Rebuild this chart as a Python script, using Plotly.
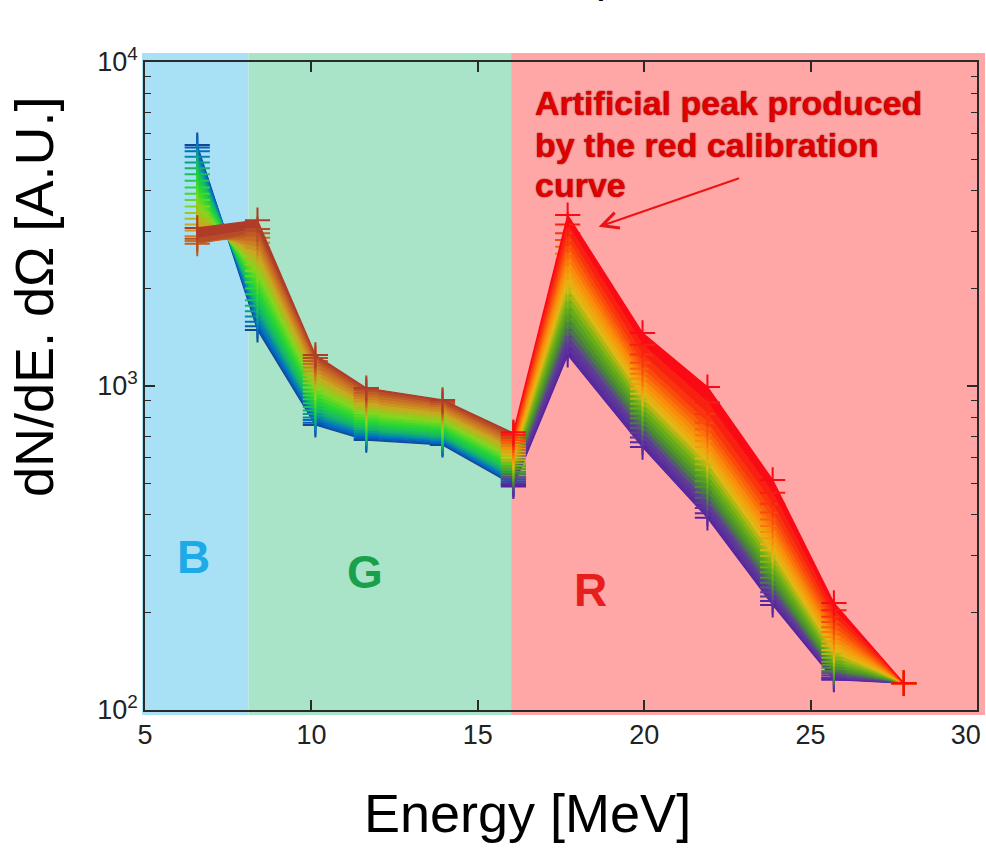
import math
import plotly.graph_objects as go
from plotly.colors import sample_colorscale

# ---------------- data ----------------
energy_bg = [6.57, 8.38, 10.12, 11.65, 13.94, 16.07]
energy_r = [16.07, 17.7, 19.95, 21.9, 23.86, 25.7, 27.8]

# B/G region spectra (blue -> green -> brown/red)
bg_curves = [
    [5540, 1490, 758, 681, 658, 495],
    [5450, 1530, 770, 690, 665, 500],
    [5300, 1580, 785, 700, 672, 508],
    [5100, 1640, 800, 710, 680, 515],
    [4900, 1700, 820, 722, 690, 524],
    [4700, 1770, 840, 735, 700, 533],
    [4500, 1840, 862, 748, 712, 543],
    [4300, 1920, 885, 762, 724, 553],
    [4100, 2000, 910, 777, 737, 564],
    [3920, 2090, 935, 792, 750, 575],
    [3750, 2180, 962, 808, 764, 587],
    [3580, 2270, 990, 825, 778, 600],
    [3420, 2370, 1020, 842, 793, 612],
    [3280, 2470, 1050, 860, 808, 625],
    [3150, 2570, 1080, 878, 823, 638],
    [3020, 2670, 1110, 897, 838, 651],
    [2900, 2770, 1140, 916, 853, 665],
    [2800, 2870, 1170, 935, 867, 678],
    [2750, 2960, 1195, 952, 880, 690],
    [2850, 3050, 1220, 970, 893, 703],
    [3075, 3250, 1247, 986, 906, 716],
]

# R region spectra (purple -> green -> yellow -> red)
r_curves = [
    [490, 1247, 648, 392, 211, 124, 121],
    [498, 1300, 670, 405, 217, 125, 121],
    [506, 1360, 693, 420, 224, 126, 121],
    [515, 1420, 717, 436, 231, 128, 121],
    [524, 1490, 742, 452, 239, 130, 121],
    [534, 1560, 768, 470, 247, 132, 121],
    [544, 1640, 795, 489, 256, 135, 121],
    [555, 1720, 823, 508, 266, 138, 121],
    [566, 1810, 852, 529, 276, 141, 121],
    [578, 1900, 882, 550, 287, 145, 121],
    [590, 2000, 913, 573, 299, 149, 121],
    [602, 2100, 946, 597, 311, 153, 121],
    [615, 2210, 980, 622, 325, 158, 121],
    [628, 2320, 1015, 648, 339, 163, 121],
    [641, 2440, 1052, 676, 354, 168, 121],
    [654, 2560, 1090, 705, 370, 174, 121],
    [667, 2690, 1130, 736, 387, 180, 121],
    [680, 2820, 1180, 770, 407, 187, 121],
    [693, 2960, 1250, 820, 433, 194, 121],
    [706, 3150, 1340, 890, 468, 203, 121],
    [720, 3370, 1458, 993, 513, 214, 121],
]

x_ticks = [5, 10, 15, 20, 25, 30]
x_tick_text = ["5", "10", "15", "20", "25", "30&nbsp;&nbsp;&nbsp;"]
y_ticks = [100, 1000, 10000]
y_tick_text = ["10<sup>2</sup>", "10<sup>3</sup>", "10<sup>4</sup>"]
y_minor = [200, 300, 400, 500, 600, 700, 800, 900,
           2000, 3000, 4000, 5000, 6000, 7000, 8000, 9000]

region_names = ["B", "G", "R"]
region_edges = [5, 8.11, 16.0, 30]

peak_note = ["Artificial peak produced", "by the red calibration", "curve"]
peak_point = (18.63, 3100)   # where the arrow points

x_title = "Energy [MeV]"
y_title = "dN/dE. dΩ [A.U.]"

# ---------------- style ----------------
FONT = "Liberation Sans, Arial, Helvetica, sans-serif"
bg_scale = [[0.0, "rgb(20,70,150)"], [0.1, "rgb(0,110,200)"], [0.25, "rgb(20,180,110)"],
            [0.4, "rgb(40,215,50)"], [0.55, "rgb(130,215,30)"], [0.7, "rgb(200,170,30)"],
            [0.82, "rgb(205,120,35)"], [1.0, "rgb(175,60,40)"]]
r_scale = [[0.0, "rgb(85,35,160)"], [0.15, "rgb(95,60,150)"], [0.28, "rgb(70,140,50)"],
           [0.42, "rgb(110,180,20)"], [0.56, "rgb(230,185,20)"], [0.7, "rgb(250,140,10)"],
           [0.85, "rgb(250,75,10)"], [1.0, "rgb(250,10,20)"]]
region_fill = ["rgb(168,225,246)", "rgb(170,228,200)", "rgb(255,166,166)"]
region_text = ["rgb(30,170,230)", "rgb(25,160,75)", "rgb(230,30,30)"]
region_text_pos = [(193, 557), (365, 572), (590, 590)]

W, H = 986, 849
L, R, T, B = 145, 9, 62, 139
PW, PH = W - L - R, H - T - B


def px_to_paper(px, py):
    return (px - L) / PW, (H - B - py) / PH


fig = go.Figure()


def add_fan(xs, curves, scale):
    n = len(curves)
    cols = sample_colorscale(scale, [k / (n - 1) for k in range(n)])
    for k, row in enumerate(curves):
        fig.add_trace(go.Scatter(
            x=xs, y=row, mode="lines+markers",
            line=dict(color=cols[k], width=1.2),
            marker=dict(symbol="cross-thin", size=18,
                        line=dict(width=2, color=cols[k])),
            fill="none" if k == 0 else "tonexty",
            fillcolor=cols[k], hoverinfo="skip", showlegend=False))


add_fan(energy_bg, bg_curves, bg_scale)
add_fan(energy_r, r_curves, r_scale)

# coloured regions (slightly larger than the axes box, like the original)
span = region_edges[-1] - region_edges[0]
for i in range(3):
    x0 = (region_edges[i] - region_edges[0]) / span
    x1 = (region_edges[i + 1] - region_edges[0]) / span
    if i == 0:
        x0 = -3 / PW
    if i == 2:
        x1 = 1 + 8 / PW
    fig.add_shape(type="rect", xref="paper", yref="paper", x0=x0, x1=x1,
                  y0=-5 / PH, y1=1 + 9 / PH, fillcolor=region_fill[i],
                  line=dict(width=0), layer="below")

annotations = []
for name, col, (px, py) in zip(region_names, region_text, region_text_pos):
    ax_, ay_ = px_to_paper(px, py)
    annotations.append(dict(text=f"<b>{name}</b>", x=ax_, y=ay_, xref="paper", yref="paper",
                            showarrow=False, xanchor="center", yanchor="middle",
                            font=dict(family=FONT, size=46, color=col)))

for line_txt, py in zip(peak_note, [103, 145, 185]):
    ax_, ay_ = px_to_paper(533, py)
    annotations.append(dict(text=f"<b>{line_txt}</b>", x=ax_, y=ay_, xref="paper", yref="paper",
                            showarrow=False, xanchor="left", yanchor="middle",
                            font=dict(family=FONT, size=34, color="rgb(225,0,0)",
                                      shadow="0px 0px 1.5px #500")))

annotations.append(dict(text="", x=peak_point[0], y=math.log10(peak_point[1]),
                        xref="x", yref="y", showarrow=True, ax=142, ay=-49,
                        arrowhead=5, arrowsize=1.6, arrowwidth=2,
                        arrowcolor="rgb(235,20,20)", standoff=0))

tx, ty = px_to_paper(527, 813)
annotations.append(dict(text=x_title, x=tx, y=ty, xref="paper", yref="paper",
                        showarrow=False, xanchor="center", yanchor="middle",
                        font=dict(family=FONT, size=54, color="black")))
tx, ty = px_to_paper(34, 297)
annotations.append(dict(text=y_title, x=tx, y=ty, xref="paper", yref="paper",
                        showarrow=False, xanchor="center", yanchor="middle", textangle=-90,
                        font=dict(family=FONT, size=54, color="black")))
# remnant of the cut-off title at the very top
tx, ty = px_to_paper(608, 3)
annotations.append(dict(text="p", x=tx, y=ty, xref="paper", yref="paper",
                        showarrow=False, xanchor="center", yanchor="bottom",
                        font=dict(family=FONT, size=44, color="black")))

axis_common = dict(showline=True, linecolor="#2a2a2a", linewidth=1.5, mirror="ticks",
                   ticks="inside", ticklen=10, tickwidth=1.5, tickcolor="#2a2a2a",
                   showgrid=False, zeroline=False, ticklabeloverflow="allow",
                   automargin=False,
                   tickfont=dict(family=FONT, size=27, color="#222"))

fig.update_layout(
    width=W, height=H,
    margin=dict(l=L, r=R, t=T, b=B, autoexpand=False),
    paper_bgcolor="white", plot_bgcolor="rgba(0,0,0,0)",
    showlegend=False,
    xaxis=dict(range=[5, 30], tickvals=x_ticks, ticktext=x_tick_text, **axis_common),
    yaxis=dict(type="log", range=[2, 4], tickvals=y_ticks, ticktext=y_tick_text,
               minor=dict(tickvals=y_minor, ticks="inside", ticklen=6,
                          tickcolor="#2a2a2a", tickwidth=1.2),
               **axis_common),
    annotations=annotations,
)

fig.write_html("out.html")
